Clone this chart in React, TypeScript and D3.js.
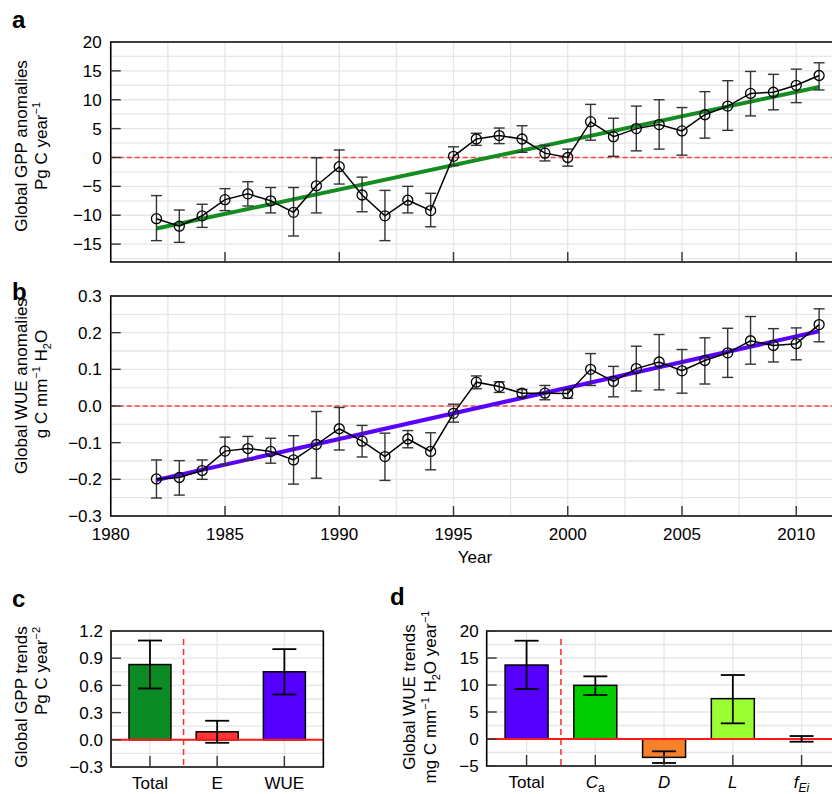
import React from 'react';
import * as d3 from 'd3';

const FONT = '"Liberation Sans", Arial, Helvetica, sans-serif';

// ---------- Panel a/b data ----------
const years = [1982, 1983, 1984, 1985, 1986, 1987, 1988, 1989, 1990, 1991, 1992, 1993, 1994, 1995, 1996,
  1997, 1998, 1999, 2000, 2001, 2002, 2003, 2004, 2005, 2006, 2007, 2008, 2009, 2010, 2011];

const gppValues = [-10.6, -11.9, -10.1, -7.3, -6.3, -7.5, -9.5, -4.9, -1.6, -6.5, -10.1, -7.4, -9.2, 0.2, 3.2,
  3.8, 3.2, 0.75, 0.0, 6.2, 3.6, 5.0, 5.7, 4.6, 7.4, 8.9, 11.1, 11.3, 12.5, 14.2];
const gppUpper = [-6.6, -9.1, -8.1, -5.4, -4.2, -5.2, -5.2, -0.05, 1.3, -3.4, -5.7, -5.0, -6.2, 1.85, 4.2,
  5.1, 5.5, 2.1, 1.45, 9.2, 6.8, 8.9, 10.0, 8.65, 11.4, 13.3, 14.9, 14.4, 15.3, 16.4];
const gppLower = [-14.4, -14.7, -12.1, -9.2, -8.4, -9.6, -13.6, -9.6, -4.6, -9.4, -14.4, -9.6, -12.0, -1.4, 2.1,
  2.4, 0.9, -0.6, -1.5, 3.0, 0.2, 1.15, 1.45, 0.4, 3.35, 4.7, 7.2, 8.25, 9.5, 11.7];
const trendYears = [1982, 2011];
const gppTrend = [-12.3, 12.2];

const wueValues = [-0.199, -0.195, -0.176, -0.123, -0.116, -0.124, -0.147, -0.105, -0.062, -0.096, -0.138, -0.09, -0.124, -0.02, 0.065,
  0.053, 0.035, 0.035, 0.034, 0.1, 0.067, 0.102, 0.12, 0.096, 0.124, 0.145, 0.178, 0.165, 0.17, 0.222];
const wueUpper = [-0.147, -0.149, -0.147, -0.085, -0.083, -0.088, -0.081, -0.015, -0.004, -0.053, -0.074, -0.067, -0.073, 0.005, 0.082,
  0.066, 0.045, 0.056, 0.044, 0.143, 0.108, 0.163, 0.195, 0.154, 0.186, 0.212, 0.244, 0.211, 0.213, 0.265];
const wueLower = [-0.251, -0.243, -0.2, -0.159, -0.148, -0.156, -0.213, -0.197, -0.12, -0.139, -0.203, -0.114, -0.174, -0.044, 0.047,
  0.037, 0.025, 0.017, 0.021, 0.056, 0.025, 0.041, 0.044, 0.035, 0.06, 0.078, 0.114, 0.12, 0.126, 0.175];
const wueTrend = [-0.202, 0.204];

const gppTicks = [-15, -10, -5, 0, 5, 10, 15, 20];
const wueTicks = [-0.3, -0.2, -0.1, 0.0, 0.1, 0.2, 0.3];
const yearTicks = [1980, 1985, 1990, 1995, 2000, 2005, 2010];

// ---------- Panel c data ----------
const cCategories = ['Total', 'E', 'WUE'];
const cValues = [0.83, 0.088, 0.75];
const cUpper = [1.095, 0.21, 1.0];
const cLower = [0.566, -0.033, 0.5];
const cColors = ['#0c8a24', '#ff3434', '#5500ff'];
const cTicks = [-0.3, 0.0, 0.3, 0.6, 0.9, 1.2];

// ---------- Panel d data ----------
const dCategories = ['Total', 'Ca', 'D', 'L', 'fEi'];
const dValues = [13.7, 9.94, -3.4, 7.47, 0.05];
const dUpper = [18.2, 11.6, -2.28, 11.85, 0.55];
const dLower = [9.26, 8.15, -4.44, 2.9, -0.5];
const dColors = ['#5500ff', '#00cc00', '#f5822a', '#99ff33', '#8a8a8a'];
const dTicks = [-5, 0, 5, 10, 15, 20];

const GRID = '#e6e6e6';
const TICK = '#333';

function catLabel(name: string) {
  if (name === 'Ca') return [<tspan key="a" fontStyle="italic">C</tspan>, <tspan key="b" dy={4} fontSize={12}>a</tspan>];
  if (name === 'D' || name === 'L') return <tspan fontStyle="italic">{name}</tspan>;
  if (name === 'fEi') return [<tspan key="a" fontStyle="italic">f</tspan>, <tspan key="b" dy={4} fontSize={12} fontStyle="italic">Ei</tspan>];
  return name;
}

function LinePanel(props: any) {
  const { top, bottom, yDomain, ticks, gridStep, fmt, vals, up, lo, trend, trendColor, showXLabels } = props;
  const left = 110.75;
  const x = d3.scaleLinear().domain([1980, 2012]).range([left, left + 32 * 22.85]);
  const y = d3.scaleLinear().domain(yDomain).range([bottom, top]);
  const right = x(2012);
  const hGrid = d3.range(Math.ceil(yDomain[0] / gridStep) * gridStep, yDomain[1] + 1e-9, gridStep)
    .filter(v => Math.abs(y(v) - top) > 1 && Math.abs(y(v) - bottom) > 1);
  const vGrid = d3.range(1982.5, 2012, 2.5);
  const line = d3.line<number>().x((_, i) => x(years[i])).y(d => y(d));
  const trendLine = d3.line<number>().x((_, i) => x(trendYears[i])).y(d => y(d));
  const cap = 5.5;
  return (
    <g>
      {hGrid.map(v => <line key={'h' + v} x1={left} x2={right} y1={y(v)} y2={y(v)} stroke={GRID} strokeWidth={1.3} />)}
      {vGrid.map(v => <line key={'v' + v} x1={x(v)} x2={x(v)} y1={top} y2={bottom} stroke={GRID} strokeWidth={1.3} />)}
      <line x1={left} x2={right} y1={y(0)} y2={y(0)} stroke="#ff4040" strokeWidth={1.3} strokeDasharray="5,3" />
      <path d={trendLine(trend) || ''} fill="none" stroke={trendColor} strokeWidth={4} />
      {vals.map((v: number, i: number) => (
        <g key={'e' + i} stroke="#333" strokeWidth={1.4}>
          <line x1={x(years[i])} x2={x(years[i])} y1={y(up[i])} y2={y(lo[i])} />
          <line x1={x(years[i]) - cap} x2={x(years[i]) + cap} y1={y(up[i])} y2={y(up[i])} />
          <line x1={x(years[i]) - cap} x2={x(years[i]) + cap} y1={y(lo[i])} y2={y(lo[i])} />
        </g>
      ))}
      <path d={line(vals) || ''} fill="none" stroke="#000" strokeWidth={1.5} />
      {vals.map((v: number, i: number) => (
        <circle key={'c' + i} cx={x(years[i])} cy={y(v)} r={5} fill="none" stroke="#000" strokeWidth={1.3} />
      ))}
      <path d={`M${right},${top}H${left}V${bottom}H${right}`} fill="none" stroke="#000" strokeWidth={1.6} />
      {ticks.map((t: number) => (
        <g key={'yt' + t}>
          <line x1={left} x2={left + 10} y1={y(t)} y2={y(t)} stroke={TICK} strokeWidth={1.4} />
          <text x={left - 9} y={y(t)} dy="0.36em" textAnchor="end" fontSize={17} fontFamily={FONT}>{fmt(t)}</text>
        </g>
      ))}
      {yearTicks.slice(1).map(t => (
        <line key={'xt' + t} x1={x(t)} x2={x(t)} y1={bottom} y2={bottom - 10} stroke={TICK} strokeWidth={1.4} />
      ))}
      {showXLabels && yearTicks.map(t => (
        <text key={'xl' + t} x={x(t)} y={bottom + 24} textAnchor="middle" fontSize={17} fontFamily={FONT}>{t}</text>
      ))}
    </g>
  );
}

function BarPanel(props: any) {
  const { left, top, bottom, cats, vals, up, lo, colors, yDomain, ticks, gridStep, fmt, unit } = props;
  const n = cats.length;
  const x = d3.scaleLinear().domain([0.42, n + 0.58]).range([left, left + (n + 0.16) * unit]);
  const y = d3.scaleLinear().domain(yDomain).range([bottom, top]);
  const right = x(n + 0.58);
  const hGrid = d3.range(yDomain[0] + gridStep, yDomain[1] - 1e-9, gridStep);
  const bw = 0.625;
  const cap = 12;
  return (
    <g>
      {hGrid.map(v => <line key={'h' + v} x1={left} x2={right} y1={y(v)} y2={y(v)} stroke={GRID} strokeWidth={1.3} />)}
      {cats.map((c: string, i: number) => (
        <line key={'v' + c} x1={x(i + 1)} x2={x(i + 1)} y1={top} y2={bottom} stroke={GRID} strokeWidth={1.3} />
      ))}
      <line x1={x(1.5)} x2={x(1.5)} y1={top + 8} y2={bottom} stroke="#ff2a2a" strokeWidth={1.5} strokeDasharray="6,4" />
      {vals.map((v: number, i: number) => (
        <rect key={'b' + i} x={x(i + 1 - bw / 2)} width={x(1 + bw) - x(1)} y={y(Math.max(0, v))}
          height={Math.abs(y(v) - y(0))} fill={colors[i]} stroke="#000" strokeWidth={1.5} />
      ))}
      <line x1={left} x2={right} y1={y(0)} y2={y(0)} stroke="#ff1a1a" strokeWidth={2} />
      {vals.map((v: number, i: number) => (
        <g key={'e' + i} stroke="#000" strokeWidth={1.8}>
          <line x1={x(i + 1)} x2={x(i + 1)} y1={y(up[i])} y2={y(lo[i])} />
          <line x1={x(i + 1) - cap} x2={x(i + 1) + cap} y1={y(up[i])} y2={y(up[i])} />
          <line x1={x(i + 1) - cap} x2={x(i + 1) + cap} y1={y(lo[i])} y2={y(lo[i])} />
        </g>
      ))}
      <path d={`M${right},${top}H${left}V${bottom}H${right}V${top}`} fill="none" stroke="#000" strokeWidth={1.6} />
      {ticks.map((t: number) => (
        <g key={'yt' + t}>
          <line x1={left} x2={left + 10} y1={y(t)} y2={y(t)} stroke={TICK} strokeWidth={1.4} />
          <text x={left - 8} y={y(t)} dy="0.36em" textAnchor="end" fontSize={17} fontFamily={FONT}>{fmt(t)}</text>
        </g>
      ))}
      {cats.map((c: string, i: number) => (
        <g key={'xc' + c}>
          <line x1={x(i + 1)} x2={x(i + 1)} y1={bottom} y2={bottom - 11} stroke={TICK} strokeWidth={1.4} />
          <text x={x(i + 1)} y={bottom + 22} textAnchor="middle" fontSize={17} fontFamily={FONT}>{catLabel(c)}</text>
        </g>
      ))}
    </g>
  );
}

function YTitle({ x, y, children }: any) {
  return (
    <text transform={`translate(${x},${y}) rotate(-90)`} textAnchor="middle" fontSize={17} fontFamily={FONT}>{children}</text>
  );
}

function PanelLabel({ x, y, t }: any) {
  return <text x={x} y={y} fontSize={24} fontWeight="bold" fontFamily={FONT}>{t}</text>;
}

export default function App() {
  const f0 = d3.format('d');
  const f1 = d3.format('.1f');
  return (
    <svg width={832} height={794} style={{ position: 'absolute', left: 0, top: 0, background: '#fff' }}>
      <rect width={832} height={794} fill="#fff" />
      <PanelLabel x={12} y={28} t="a" />
      <PanelLabel x={12} y={300} t="b" />
      <PanelLabel x={12} y={607} t="c" />
      <PanelLabel x={390} y={605} t="d" />

      <LinePanel top={42} bottom={262} yDomain={[-18.1, 20]} ticks={gppTicks} gridStep={2.5} fmt={f0}
        vals={gppValues} up={gppUpper} lo={gppLower} trend={gppTrend} trendColor="#138c20" showXLabels={false} />
      <LinePanel top={296} bottom={516} yDomain={[-0.3, 0.3]} ticks={wueTicks} gridStep={0.05} fmt={f1}
        vals={wueValues} up={wueUpper} lo={wueLower} trend={wueTrend} trendColor="#5a00ff" showXLabels={true} />
      <text x={475} y={563} textAnchor="middle" fontSize={17} fontFamily={FONT}>Year</text>

      <YTitle x={27} y={146}>Global GPP anomalies</YTitle>
      <YTitle x={47} y={146}>Pg C year<tspan dy={-7} fontSize={11}>−1</tspan></YTitle>
      <YTitle x={27} y={386}>Global WUE anomalies</YTitle>
      <YTitle x={47} y={384}>g C mm<tspan dy={-7} fontSize={11}>−1</tspan><tspan dy={7}> H</tspan><tspan dy={4} fontSize={11}>2</tspan><tspan dy={-4}>O</tspan></YTitle>

      <BarPanel left={111} top={631} bottom={767} unit={67.2} cats={cCategories} vals={cValues} up={cUpper} lo={cLower}
        colors={cColors} yDomain={[-0.3, 1.2]} ticks={cTicks} gridStep={0.15} fmt={f1} />
      <BarPanel left={486.7} top={631} bottom={766} unit={68.75} cats={dCategories} vals={dValues} up={dUpper} lo={dLower}
        colors={dColors} yDomain={[-5, 20]} ticks={dTicks} gridStep={2.5} fmt={f0} />

      <YTitle x={27} y={697}>Global GPP trends</YTitle>
      <YTitle x={47} y={671}>Pg C year<tspan dy={-7} fontSize={11}>−2</tspan></YTitle>
      <YTitle x={415} y={697}>Global WUE trends</YTitle>
      <YTitle x={436} y={697}>mg C mm<tspan dy={-7} fontSize={11}>−1</tspan><tspan dy={7}> H</tspan><tspan dy={4} fontSize={11}>2</tspan><tspan dy={-4}>O year</tspan><tspan dy={-7} fontSize={11}>−1</tspan></YTitle>
    </svg>
  );
}
